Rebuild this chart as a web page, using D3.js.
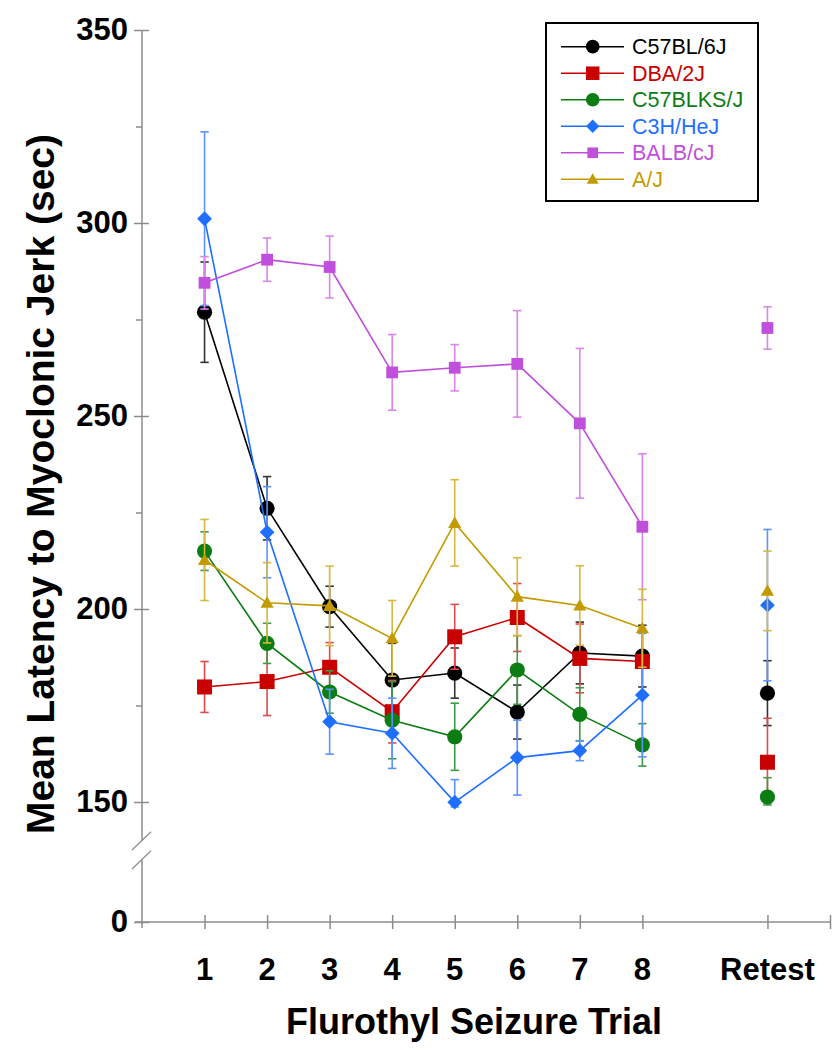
<!DOCTYPE html>
<html>
<head>
<meta charset="utf-8">
<script src="https://cdn.jsdelivr.net/npm/d3@7"></script>
<style>
  html, body { margin: 0; padding: 0; background: #fff; }
  svg { display: block; }
  text { font-family: "Liberation Sans", Arial, Helvetica, sans-serif; }
</style>
</head>
<body>
<svg id="chart" width="837" height="1050"></svg>
<script>
// ---------- data ----------
const trialLabels = ["1", "2", "3", "4", "5", "6", "7", "8", "Retest"];
const trialPos = [1, 2, 3, 4, 5, 6, 7, 8, 10];

const strainNames = ["C57BL/6J", "DBA/2J", "C57BLKS/J", "C3H/HeJ", "BALB/cJ", "A/J"];

const c57bl6Mean = [276.9, 226.1, 200.6, 181.6, 183.4, 173.3, 188.6, 187.8, 178.2];
const c57bl6Err  = [13.0, 8.2, 5.3, 9.5, 6.5, 7.0, 8.0, 8.0, 8.4];

const dbaMean = [179.8, 181.2, 184.9, 173.4, 192.8, 197.8, 187.2, 186.4, 160.3];
const dbaErr  = [6.6, 8.8, 6.4, 8.1, 8.4, 8.8, 8.9, 8.0, 11.4];

const c57blksMean = [215.0, 191.1, 178.5, 171.2, 166.9, 184.2, 172.7, 164.8, 151.3];
const c57blksErr  = [5.0, 5.2, 5.5, 10.0, 8.7, 8.9, 6.9, 5.5, 5.0];

const c3hMean = [301.1, 219.9, 170.8, 167.8, 149.8, 161.5, 163.3, 177.7, 201.0];
const c3hErr  = [22.5, 11.8, 8.4, 9.1, 6.0, 9.7, 2.6, 16.0, 19.6];

const balbMean = [284.5, 290.5, 288.6, 261.3, 262.5, 263.5, 248.1, 221.3, 272.8];
const balbErr  = [6.8, 5.6, 8.0, 9.8, 6.0, 13.8, 19.4, 18.9, 5.5];

const ajMean = [212.7, 201.6, 200.8, 192.4, 222.3, 203.2, 200.9, 195.0, 204.7];
const ajErr  = [10.5, 10.4, 10.3, 9.8, 11.2, 10.1, 10.3, 10.1, 10.3];

const yMajorTicks = [0, 150, 200, 250, 300, 350];
const yMinorTicks = [175, 225, 275, 325];
const xTickPositions = [1, 2, 3, 4, 5, 6, 7, 8, 10, 11];

const yTitle = "Mean Latency to Myoclonic Jerk (sec)";
const xTitle = "Flurothyl Seizure Trial";

// ---------- styling ----------
const colors = ["#000000", "#c80000", "#0b7d12", "#1f6fff", "#c04fdc", "#c39b00"];
const errColors = ["#333333", "#e04a4a", "#3e9a45", "#5a93ff", "#da86ec", "#d8b840"];
const shapes = ["circle", "square", "circle", "diamond", "smallsquare", "triangle"];

const series = strainNames.map((name, i) => ({
  name,
  color: colors[i],
  errColor: errColors[i],
  shape: shapes[i],
  mean: [c57bl6Mean, dbaMean, c57blksMean, c3hMean, balbMean, ajMean][i],
  err: [c57bl6Err, dbaErr, c57blksErr, c3hErr, balbErr, ajErr][i]
}));

// ---------- scales ----------
const x = d3.scaleLinear().domain([0, 11]).range([142, 830]);
const y = d3.scaleLinear().domain([0, 150, 350]).range([922, 802, 30]);

const svg = d3.select("#chart");

// ---------- axes ----------
const axisColor = "#8c8c8c";
const g = svg.append("g");

// y axis line with break
const breakTop = 841, breakBot = 860;
g.append("line").attr("x1", x(0)).attr("x2", x(0)).attr("y1", y(350)).attr("y2", breakTop)
  .attr("stroke", axisColor).attr("stroke-width", 1.5);
g.append("line").attr("x1", x(0)).attr("x2", x(0)).attr("y1", breakBot).attr("y2", y(0) + 6)
  .attr("stroke", axisColor).attr("stroke-width", 1.5);
// break slashes
[[850, 831.7], [869, 850.7]].forEach(([ya, yb]) => {
  g.append("line").attr("x1", x(0) - 10).attr("y1", ya).attr("x2", x(0) + 9).attr("y2", yb)
    .attr("stroke", axisColor).attr("stroke-width", 1.2);
});

// y axis major ticks + labels via d3.axisLeft
const yAxis = d3.axisLeft(y).tickValues(yMajorTicks).tickSize(8).tickPadding(6).tickFormat(d3.format("d"));
const yAxisG = svg.append("g").attr("transform", `translate(${x(0)},0)`).call(yAxis);
yAxisG.select(".domain").remove();
yAxisG.selectAll(".tick line").attr("x1", 7).attr("stroke", axisColor).attr("stroke-width", 1.5);
yAxisG.selectAll(".tick text")
  .attr("font-family", '"Liberation Sans", Arial, sans-serif')
  .attr("font-size", 31).attr("font-weight", "bold").attr("fill", "#000")
  .attr("dy", "0.3em");

// y minor ticks
const yMinorAxis = d3.axisLeft(y).tickValues(yMinorTicks).tickSize(6).tickFormat("");
const yMinorG = svg.append("g").attr("transform", `translate(${x(0)},0)`).call(yMinorAxis);
yMinorG.select(".domain").remove();
yMinorG.selectAll(".tick line").attr("stroke", axisColor).attr("stroke-width", 1.5);

// x axis line
g.append("line").attr("x1", x(0) - 7).attr("x2", x(11)).attr("y1", y(0)).attr("y2", y(0))
  .attr("stroke", axisColor).attr("stroke-width", 1.5);

const xAxis = d3.axisBottom(x).tickValues(xTickPositions).tickSize(7).tickFormat("");
const xAxisG = svg.append("g").attr("transform", `translate(0,${y(0)})`).call(xAxis);
xAxisG.select(".domain").remove();
xAxisG.selectAll(".tick line").attr("y1", -7).attr("stroke", axisColor).attr("stroke-width", 1.5);

// x tick labels
svg.append("g").selectAll("text").data(trialLabels).join("text")
  .attr("x", (d, i) => x(trialPos[i]))
  .attr("y", 980)
  .attr("text-anchor", "middle")
  .attr("font-size", 31).attr("font-weight", "bold").attr("fill", "#000")
  .text(d => d);

// axis titles
svg.append("text")
  .attr("transform", `translate(54,484) rotate(-90)`)
  .attr("text-anchor", "middle")
  .attr("font-size", 39).attr("font-weight", "bold").attr("fill", "#000")
  .text(yTitle);

svg.append("text")
  .attr("x", 474).attr("y", 1034)
  .attr("text-anchor", "middle")
  .attr("font-size", 36).attr("font-weight", "bold").attr("fill", "#000")
  .text(xTitle);

// ---------- marker drawing ----------
function drawMarker(sel, shape, color, scale) {
  const s = scale || 1;
  if (shape === "circle") {
    sel.append("circle").attr("r", 7.6 * s).attr("fill", color);
  } else if (shape === "square") {
    sel.append("rect").attr("x", -7.5 * s).attr("y", -7.5 * s).attr("width", 15 * s).attr("height", 15 * s).attr("fill", color);
  } else if (shape === "smallsquare") {
    sel.append("rect").attr("x", -5.9 * s).attr("y", -5.9 * s).attr("width", 11.8 * s).attr("height", 11.8 * s).attr("fill", color);
  } else if (shape === "diamond") {
    const r = 7.4 * s;
    sel.append("path").attr("d", `M0,${-r}L${r},0L0,${r}L${-r},0Z`).attr("fill", color);
  } else if (shape === "triangle") {
    const w = 6.6 * s;
    sel.append("path").attr("d", `M0,${-6.6 * s}L${w},${5 * s}L${-w},${5 * s}Z`).attr("fill", color);
  }
}

// ---------- series ----------
const line = d3.line().x(d => x(d.pos)).y(d => y(d.v));

series.forEach(s => {
  const pts = s.mean.map((v, i) => ({ pos: trialPos[i], v, e: s.err[i] }));
  const sg = svg.append("g");

  // error bars
  const eb = sg.append("g").selectAll("g").data(pts).join("g");
  eb.append("line")
    .attr("x1", d => x(d.pos)).attr("x2", d => x(d.pos))
    .attr("y1", d => y(d.v + d.e)).attr("y2", d => y(d.v - d.e))
    .attr("stroke", s.errColor).attr("stroke-width", 1.6);
  [1, -1].forEach(sign => {
    eb.append("line")
      .attr("x1", d => x(d.pos) - 4.2).attr("x2", d => x(d.pos) + 4.2)
      .attr("y1", d => y(d.v + sign * d.e)).attr("y2", d => y(d.v + sign * d.e))
      .attr("stroke", s.errColor).attr("stroke-width", 1.6);
  });

  // connecting line for trials 1-8
  sg.append("path").datum(pts.slice(0, 8))
    .attr("d", line).attr("fill", "none")
    .attr("stroke", s.color).attr("stroke-width", 1.6);

  // markers
  sg.append("g").selectAll("g").data(pts).join("g")
    .attr("transform", d => `translate(${x(d.pos)},${y(d.v)})`)
    .each(function () { drawMarker(d3.select(this), s.shape, s.color); });
});

// ---------- legend ----------
const lg = svg.append("g");
lg.append("rect").attr("x", 546).attr("y", 23).attr("width", 212).attr("height", 178)
  .attr("fill", "#fff").attr("stroke", "#000").attr("stroke-width", 2);
const rowY = d3.scaleLinear().domain([0, 5]).range([46.7, 179.3]);
series.forEach((s, i) => {
  const ry = rowY(i);
  lg.append("line").attr("x1", 561).attr("x2", 624).attr("y1", ry).attr("y2", ry)
    .attr("stroke", s.color).attr("stroke-width", 1.5);
  const mg = lg.append("g").attr("transform", `translate(592.7,${ry})`);
  drawMarker(mg, s.shape, s.color, 0.9);
  lg.append("text").attr("x", 632).attr("y", ry + 7.7)
    .attr("font-size", 21.5).attr("fill", s.color).text(s.name);
});
</script>
</body>
</html>
